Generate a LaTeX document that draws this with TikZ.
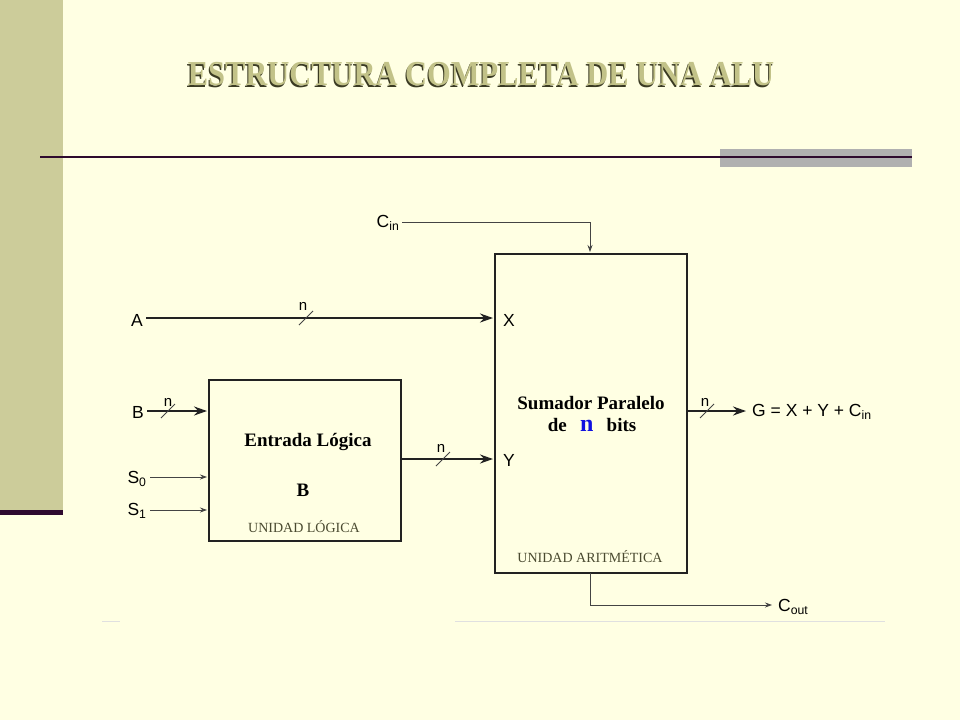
\documentclass[tikz,border=0pt]{standalone}
\usepackage{fontspec}
\setmainfont{Liberation Serif}
\setsansfont{Liberation Sans}
\usetikzlibrary{arrows.meta}
\definecolor{bgyellow}{HTML}{FFFFE3}
\definecolor{sidebar}{HTML}{CCCC9A}
\definecolor{darkpurple}{HTML}{2E0A2E}
\definecolor{greybar}{HTML}{B0B0B0}
\definecolor{titlefg}{HTML}{C2C288}
\definecolor{titleshadow}{HTML}{3A3A22}
\definecolor{unitcol}{HTML}{4A4A30}
\definecolor{wire}{HTML}{222222}
\definecolor{thinwire}{HTML}{444444}
\definecolor{nblue}{HTML}{1010E0}
\newcommand{\shadowtext}[1]{\rlap{\kern-1.2pt\raisebox{-1.6pt}{\color{titleshadow}#1}}{\color{titlefg}#1}}
\tikzset{
  box/.style={draw=wire, line width=1.6pt, fill=none},
  bus/.style={draw=wire, line width=2.2pt, -{Stealth[length=13pt,width=9pt]}},
  sig/.style={draw=thinwire, line width=0.8pt, -{Stealth[length=7pt,width=5pt]}},
  lbl/.style={font=\sffamily\fontsize{17.5}{20}\selectfont, inner sep=0pt, text=black},
  nlbl/.style={font=\sffamily\fontsize{15}{17}\selectfont, inner sep=0pt, text=black},
  slash/.style={draw=thinwire, line width=0.8pt},
  bold/.style={font=\bfseries\fontsize{19}{22}\selectfont, inner sep=0pt, text=black},
  unit/.style={font=\fontsize{14}{16}\selectfont, inner sep=0pt, text=unitcol},
}
\begin{document}
\begin{tikzpicture}[x=1pt,y=-1pt]
% background
\fill[bgyellow] (0,0) rectangle (960,720);
\useasboundingbox (0,0) rectangle (960,720);
\fill[sidebar] (0,0) rectangle (63,510);
\fill[darkpurple] (0,510) rectangle (63,515);
\fill[greybar] (720,149) rectangle (912,167);
\draw[darkpurple, line width=2pt] (40,157) -- (912,157);
% title
\node[font=\bfseries\fontsize{35}{37}\selectfont, xscale=0.87, inner sep=0pt] (title) at (481,75) {\shadowtext{ESTRUCTURA COMPLETA DE UNA ALU}};
% faint image border line
\draw[black!12, line width=1pt] (102,621) -- (120,621);
\draw[black!12, line width=1pt] (455,621) -- (885,621);
% boxes
\node[box, minimum width=192pt, minimum height=319pt, anchor=north west, inner sep=0pt] (arith) at (494,253) {};
\node[box, minimum width=192pt, minimum height=161pt, anchor=north west, inner sep=0pt] (logic) at (208,379) {};
% box texts
\node[bold] (entrada) at (308,442) {Entrada Lógica};
\node[bold] (bletter) at (303,490) {B};
\node[unit] (ulogica) at (304,527) {UNIDAD LÓGICA};
\node[bold] (sumador) at (591,403) {Sumador Paralelo};
\node[bold, anchor=base] (debits) at (592,431) {de\hspace{0.7em}{\fontsize{24}{24}\selectfont\color{nblue}n}\hspace{0.7em}bits};
\node[unit] (uarit) at (590,557) {UNIDAD ARITMÉTICA};
% labels
\node[lbl] (A) at (137,320) {A};
\node[lbl] (B) at (138,412) {B};
\node[lbl] (S0) at (137,479) {S\textsubscript{0}};
\node[lbl] (S1) at (137,511) {S\textsubscript{1}};
\node[lbl] (X) at (509,320) {X};
\node[lbl] (Y) at (509,460) {Y};
\node[lbl] (Cin) at (388,223) {C\textsubscript{in}};
\node[lbl, anchor=west] (G) at (752,412) {G = X + Y + C\textsubscript{in}};
\node[lbl, anchor=west] (Cout) at (778,607) {C\textsubscript{out}};
% coordinates
\coordinate (Astart) at (146,318);
\coordinate (Aend) at (493,318);
\coordinate (Bstart) at (147,411);
\coordinate (Bend) at (207,411);
\coordinate (S0start) at (150,477);
\coordinate (S0end) at (207,477);
\coordinate (S1start) at (150,510);
\coordinate (S1end) at (207,510);
\coordinate (Ystart) at (401,459);
\coordinate (Yend) at (493,459);
\coordinate (Gstart) at (687,411);
\coordinate (Gend) at (746,411);
\coordinate (Cinstart) at (402,222);
\coordinate (Cincorner) at (590,222);
\coordinate (Cinend) at (590,252);
\coordinate (Coutstart) at (590,573);
\coordinate (Coutcorner) at (590,605);
\coordinate (Coutend) at (772,605);
% connectors
\draw[bus] (Astart) -- (Aend);
\draw[bus] (Bstart) -- (Bend);
\draw[sig] (S0start) -- (S0end);
\draw[sig] (S1start) -- (S1end);
\draw[bus] (Ystart) -- (Yend);
\draw[bus] (Gstart) -- (Gend);
\draw[sig] (Cinstart) -- (Cincorner) -- (Cinend);
\draw[sig] (Coutstart) -- (Coutcorner) -- (Coutend);
% bus slashes and widths
\draw[slash] (299,325) -- (313,311);
\node[nlbl] (nA) at (303,306) {n};
\draw[slash] (161,418) -- (175,404);
\node[nlbl] (nB) at (168,402) {n};
\draw[slash] (436,466) -- (450,452);
\node[nlbl] (nY) at (441,448) {n};
\draw[slash] (700,418) -- (714,404);
\node[nlbl] (nG) at (705,402) {n};
\end{tikzpicture}
\end{document}
